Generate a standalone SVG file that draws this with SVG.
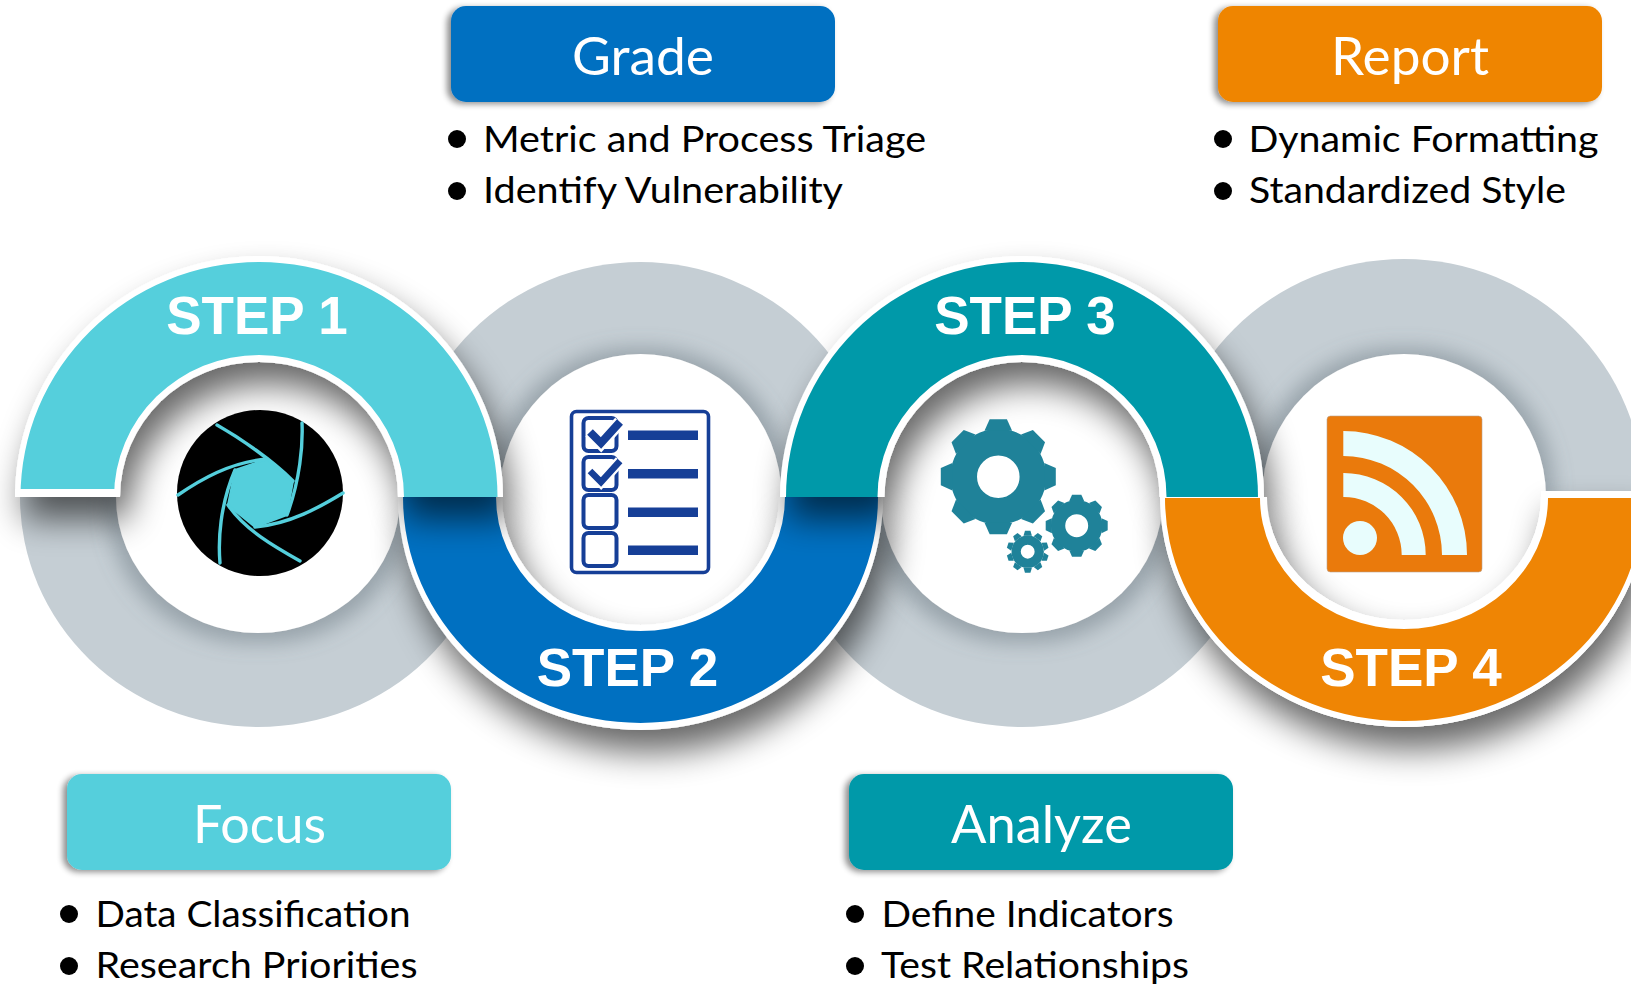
<svg xmlns="http://www.w3.org/2000/svg" xmlns:xlink="http://www.w3.org/1999/xlink" width="1631" height="984" viewBox="0 0 1631 984">
<style>
.gray{fill:#c5ced4}
.disc{fill:#fff;filter:url(#discGlow)}
.lbl{font:bold 53px "Liberation Sans",Arial,sans-serif;fill:#fff;text-anchor:middle}
.hd{font:53px Lato,"Noto Sans",sans-serif;fill:#fff}
.tx{font:37.5px Lato,"Noto Sans",sans-serif;fill:#000}
.box{filter:url(#boxShadow)}
.check{fill:none;stroke:#163f97;stroke-width:3.6}
.bar{fill:#163f97}
.shut{fill:none;stroke:#54cfdc;stroke-width:3.4;stroke-linecap:round}
</style>
<defs>
<filter id="arcShadow" x="-25%" y="-25%" width="150%" height="160%">
<feGaussianBlur in="SourceAlpha" stdDeviation="17"/><feOffset dx="8" dy="22"/>
<feComponentTransfer><feFuncA type="linear" slope=".6"/></feComponentTransfer>
<feMerge><feMergeNode/><feMergeNode in="SourceGraphic"/></feMerge>
</filter>
<filter id="discGlow" x="-25%" y="-25%" width="150%" height="150%">
<feMorphology in="SourceAlpha" operator="dilate" radius="8"/><feGaussianBlur stdDeviation="10"/><feOffset dy="2"/>
<feColorMatrix values="0 0 0 0 .12 0 0 0 0 .16 0 0 0 0 .19 0 0 0 .45 0"/>
<feMerge><feMergeNode/><feMergeNode in="SourceGraphic"/></feMerge>
</filter>
<filter id="boxShadow" x="-5%" y="-15%" width="110%" height="130%">
<feGaussianBlur in="SourceAlpha" stdDeviation="3"/><feOffset dx="-4" dy="2"/>
<feComponentTransfer><feFuncA type="linear" slope=".45"/></feComponentTransfer>
<feMerge><feMergeNode/><feMergeNode in="SourceGraphic"/></feMerge>
</filter>
<path id="tooth" d="M-.24-.8L-.15-1H.15L.24-.8Z"/>
<g id="gear8">
<circle r=".6" fill="none" stroke="#1f8299" stroke-width=".46"/>
<use href="#tooth"/><use href="#tooth" transform="rotate(45)"/><use href="#tooth" transform="rotate(90)"/><use href="#tooth" transform="rotate(135)"/><use href="#tooth" transform="rotate(180)"/><use href="#tooth" transform="rotate(225)"/><use href="#tooth" transform="rotate(270)"/><use href="#tooth" transform="rotate(315)"/>
</g>
<path id="tooth10" d="M-.2-.76L-.13-1H.13L.2-.76Z"/>
<g id="gear10">
<circle r=".55" fill="none" stroke="#1f8299" stroke-width=".44"/>
<use href="#tooth10"/><use href="#tooth10" transform="rotate(36)"/><use href="#tooth10" transform="rotate(72)"/><use href="#tooth10" transform="rotate(108)"/><use href="#tooth10" transform="rotate(144)"/><use href="#tooth10" transform="rotate(180)"/><use href="#tooth10" transform="rotate(216)"/><use href="#tooth10" transform="rotate(252)"/><use href="#tooth10" transform="rotate(288)"/><use href="#tooth10" transform="rotate(324)"/>
</g>
<g id="step4shape">
<path fill="#fff" d="M1160,497A244,230 0 0 0 1648,497H1541A137,123 0 0 1 1267,497Z"/>
<rect x="1541" y="491" width="100" height="7" fill="#fff"/>
<path fill="#ef8504" d="M1165,498A239,223 0 0 0 1643,498H1548A144,131 0 0 1 1260,498Z"/>
</g>
</defs>

<g id="base-rings">
<ellipse class="gray" cx="258" cy="497" rx="238" ry="230"/>
<path class="gray" d="M402.500,497A238,235 0 0 1 878.500,497Z"/>
<ellipse class="gray" cx="1022" cy="497" rx="238" ry="230"/>
<path class="gray" d="M1164,497A240,238 0 0 1 1644,497Z"/>
<ellipse class="disc" cx="258" cy="497" rx="142" ry="136"/>
<ellipse class="disc" cx="640.5" cy="497" rx="141" ry="143"/>
<ellipse class="disc" cx="1022" cy="497" rx="141" ry="136"/>
<ellipse class="disc" cx="1404" cy="497" rx="142" ry="143"/>
</g>

<g id="step2" filter="url(#arcShadow)">
<path fill="#fff" d="M398,497A242.5,233 0 0 0 883,497H779A138.5,128 0 0 1 502,497Z"/>
<path fill="#0370c1" d="M403,497A237.5,226 0 0 0 878,497H785A144.5,134 0 0 1 496,497Z"/>
</g>
<use id="step4-shadow" href="#step4shape" filter="url(#arcShadow)"/>
<g id="step1" filter="url(#arcShadow)">
<path fill="#fff" d="M15,497A244,241 0 0 1 503,497H398A139,135 0 0 0 120,497Z"/>
<path fill="#54cfdc" d="M20.500,497A238.500,235 0 0 1 497.500,497H404A145,142 0 0 0 114,497Z"/>
<rect x="15" y="489" width="105" height="8" fill="#fff"/>
</g>
<g id="step3" filter="url(#arcShadow)">
<path fill="#fff" d="M780,497A242,241 0 0 1 1264,497H1159.500A137.500,135 0 0 0 884.500,497Z"/>
<path fill="#0499a9" d="M786,497A236,235 0 0 1 1258,497H1166.500A144.500,142 0 0 0 877.500,497Z"/>
</g>
<use id="step4" href="#step4shape"/>

<g id="step-labels">
<text class="lbl" x="257" y="334">STEP 1</text>
<text class="lbl" x="627.500" y="686">STEP 2</text>
<text class="lbl" x="1025" y="334">STEP 3</text>
<text class="lbl" x="1411" y="686">STEP 4</text>
</g>

<g id="icon-aperture">
<circle cx="260" cy="493" r="83"/>
<path fill="#54cfdc" stroke="#54cfdc" stroke-width="2" stroke-linejoin="round" d="M267,459L293,481 287,515 255,527 228,505 235,470Z"/>
<path class="shut" d="M217,425C240,438 272,460 293,481"/>
<path class="shut" d="M302,423C303,445 300,480 287,515"/>
<path class="shut" d="M343,493C320,507 290,524 255,527"/>
<path class="shut" d="M300,561C275,547 245,530 228,505"/>
<path class="shut" d="M220,563C218,540 220,505 235,470"/>
<path class="shut" d="M178,495C200,480 230,462 267,459"/>
</g>

<g id="icon-checklist">
<rect class="check" x="571.500" y="411.500" width="137" height="161" rx="5" style="fill:#fff"/>
<rect class="check" x="583.500" y="418" width="33" height="33" rx="5" style="stroke-width:4"/>
<rect class="check" x="583.500" y="457" width="33" height="33" rx="5" style="stroke-width:4"/>
<rect class="check" x="583.500" y="495" width="33" height="33" rx="5" style="stroke-width:4"/>
<rect class="check" x="583.500" y="533" width="33" height="33" rx="5" style="stroke-width:4"/>
<rect class="bar" x="628" y="430.500" width="70" height="9.500"/>
<rect class="bar" x="628" y="469" width="70" height="9.500"/>
<rect class="bar" x="628" y="507.500" width="70" height="9.500"/>
<rect class="bar" x="628" y="545.500" width="70" height="9.500"/>
<path d="M590,432L601,443 620,422" fill="none" stroke="#fff" stroke-width="13"/>
<path d="M590,432L601,443 620,422" fill="none" stroke="#163f97" stroke-width="8"/>
<path d="M590,471L601,482 620,461" fill="none" stroke="#fff" stroke-width="11"/>
<path d="M590,471L601,482 620,461" fill="none" stroke="#163f97" stroke-width="6.500"/>
</g>

<g id="icon-gears" fill="#1f8299">
<use href="#gear8" transform="translate(998.300,476.700) scale(57.500)"/>
<use href="#gear8" transform="translate(1076.700,525.700) scale(31)"/>
<use href="#gear10" transform="translate(1027.700,551.700) scale(21)"/>
</g>

<g id="icon-rss">
<rect x="1327" y="416" width="155" height="156" rx="3.500" fill="#ea7a0c" stroke="#b9a28e" stroke-width=".6"/>
<g fill="#e8fdfd">
<circle cx="1360" cy="538" r="17"/>
<path d="M1343.300,473A82,82 0 0 1 1425.700,555H1401.700A58,58 0 0 0 1343.300,497Z"/>
<path d="M1343.300,431A124,124 0 0 1 1467,555H1442A99,99 0 0 0 1343.300,456Z"/>
</g>
</g>

<g id="grade">
<rect class="box" x="451" y="6" width="384" height="96" rx="15" fill="#0370c1"/>
<text class="hd" x="572" y="75" textLength="142" lengthAdjust="spacingAndGlyphs">Grade</text>
<circle cx="457" cy="139" r="9"/><circle cx="457" cy="191" r="9"/>
<text class="tx" x="483" y="152" textLength="443" lengthAdjust="spacingAndGlyphs">Metric and Process Triage</text>
<text class="tx" x="483" y="203" textLength="360" lengthAdjust="spacingAndGlyphs">Identify Vulnerability</text>
</g>
<g id="report">
<rect class="box" x="1218" y="6" width="384" height="96" rx="15" fill="#ef8504"/>
<text class="hd" x="1331" y="75" textLength="158" lengthAdjust="spacingAndGlyphs">Report</text>
<circle cx="1223" cy="139" r="9"/><circle cx="1223" cy="191" r="9"/>
<text class="tx" x="1248.500" y="152" textLength="350" lengthAdjust="spacingAndGlyphs">Dynamic Formatting</text>
<text class="tx" x="1249" y="203" textLength="317" lengthAdjust="spacingAndGlyphs">Standardized Style</text>
</g>
<g id="focus">
<rect class="box" x="67" y="774" width="384" height="96" rx="15" fill="#54cfdc"/>
<text class="hd" x="193" y="843" textLength="133" lengthAdjust="spacingAndGlyphs">Focus</text>
<circle cx="69" cy="914" r="9"/><circle cx="69" cy="966" r="9"/>
<text class="tx" x="95.500" y="927" textLength="315" lengthAdjust="spacingAndGlyphs">Data Classification</text>
<text class="tx" x="95.500" y="978" textLength="322" lengthAdjust="spacingAndGlyphs">Research Priorities</text>
</g>
<g id="analyze">
<rect class="box" x="849" y="774" width="384" height="96" rx="15" fill="#0499a9"/>
<text class="hd" x="951" y="843" textLength="181" lengthAdjust="spacingAndGlyphs">Analyze</text>
<circle cx="855" cy="914" r="9"/><circle cx="855" cy="966" r="9"/>
<text class="tx" x="881.500" y="927" textLength="292" lengthAdjust="spacingAndGlyphs">Define Indicators</text>
<text class="tx" x="881" y="978" textLength="308" lengthAdjust="spacingAndGlyphs">Test Relationships</text>
</g>
<g id="connectors"/>
</svg>
